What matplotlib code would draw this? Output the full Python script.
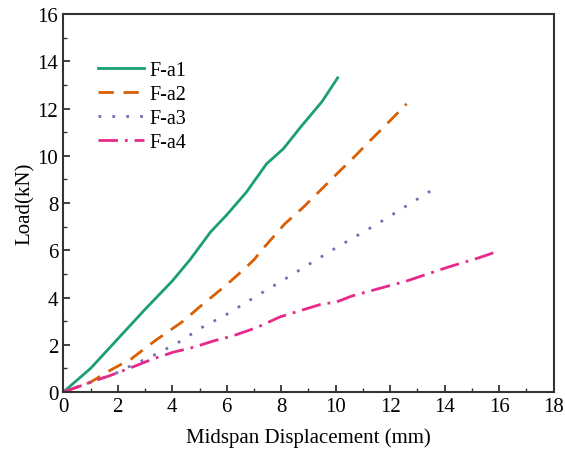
import matplotlib
matplotlib.use("Agg")
import matplotlib.pyplot as plt
from matplotlib.ticker import MultipleLocator

plt.rcParams['font.family'] = ['Liberation Serif', 'DejaVu Serif']

# F-a1
x1 = [0, 1.0, 2.0, 3.0, 4.0, 4.65, 5.4, 6.0, 6.72, 7.46, 8.08, 8.7, 9.5, 10.07]
y1 = [0, 1.0, 2.25, 3.5, 4.7, 5.6, 6.77, 7.5, 8.46, 9.66, 10.3, 11.2, 12.3, 13.3]
# F-a2
x2 = [0, 1.0, 1.72, 2.5, 3.4, 4.4, 5.0, 5.9, 6.54, 7.0, 7.33, 8.13, 8.8, 9.48, 10.15, 10.6, 11.2, 11.87, 12.6]
y2 = [0, 0.42, 0.92, 1.41, 2.2, 3.0, 3.6, 4.45, 5.1, 5.6, 6.07, 7.12, 7.81, 8.59, 9.36, 9.86, 10.57, 11.34, 12.2]
# F-a3
x3 = [0, 1.0, 2.0, 2.39, 3.31, 4.17, 5.08, 6.0, 6.9, 8.3, 10.0, 11.5, 13.55]
y3 = [0, 0.42, 0.83, 1.06, 1.55, 2.06, 2.73, 3.29, 3.93, 4.9, 6.1, 7.1, 8.56]
# F-a4
x4 = [0, 1.1, 1.72, 2.39, 3.31, 4.04, 4.8, 5.5, 6.2, 7.1, 7.95, 9.5, 10.0, 10.6, 12.6, 14.1, 15.3, 15.8]
y4 = [0, 0.45, 0.7, 0.99, 1.41, 1.69, 1.9, 2.16, 2.37, 2.73, 3.18, 3.73, 3.8, 4.07, 4.7, 5.28, 5.7, 5.9]

labels = ['F-a1', 'F-a2', 'F-a3', 'F-a4']
colors = ['#1b9e77', '#d95f02', '#7570b3', '#e7298a']

fig, ax = plt.subplots(figsize=(5.65, 4.56), dpi=100)
fig.subplots_adjust(left=0.112, right=0.98, bottom=0.138, top=0.967)

ax.plot(x1, y1, color=colors[0], lw=2, ls='-', label=labels[0])
ax.plot(x2, y2, color=colors[1], lw=2, ls=(0, (5.5, 3.5)), label=labels[1])
ax.plot(x3, y3, color=colors[2], lw=2, ls=(0, (1, 4)), label=labels[2])
ax.plot(x4, y4, color=colors[3], lw=2, ls=(0, (7, 2.5, 1, 2.5)), label=labels[3])

ax.set_xlim(0, 18)
ax.set_ylim(0, 16)
ax.xaxis.set_major_locator(MultipleLocator(2))
ax.xaxis.set_minor_locator(MultipleLocator(1))
ax.yaxis.set_major_locator(MultipleLocator(2))
ax.yaxis.set_minor_locator(MultipleLocator(1))
ax.tick_params(which='both', direction='in', top=False, right=False,
               labelsize=15, color='#333333')
ax.tick_params(which='major', length=5, width=1.3)
ax.tick_params(which='minor', length=3, width=1.0)
for s in ax.spines.values():
    s.set_linewidth(1.5)
    s.set_color('#333333')

ax.set_xlabel('Midspan Displacement (mm)', fontsize=15, labelpad=8)
ax.set_ylabel('Load(kN)', fontsize=15, labelpad=2)

ax.legend(loc='upper left', bbox_to_anchor=(0.033, 0.925), frameon=False,
          fontsize=14.5, handlelength=2.3, handletextpad=0.25, labelspacing=0.25)

fig.savefig('out.png')
